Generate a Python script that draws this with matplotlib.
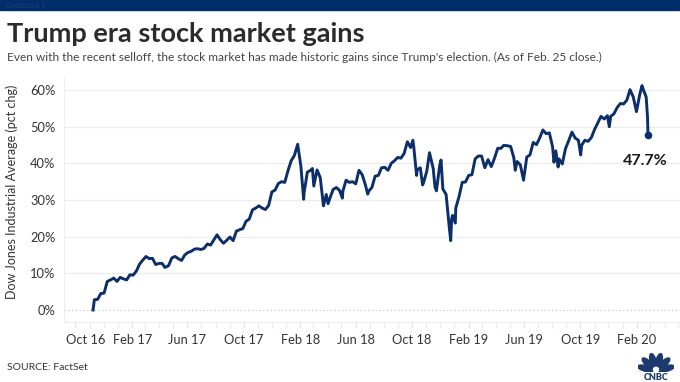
import matplotlib
matplotlib.use("Agg")
import matplotlib.pyplot as plt
import matplotlib.dates as mdates
import matplotlib.transforms as mtransforms
from matplotlib.patches import Rectangle, Ellipse
import numpy as np
import pandas as pd

dates = [
 "2016-11-08","2016-11-11","2016-11-18","2016-11-25","2016-12-02","2016-12-09","2016-12-16","2016-12-23","2016-12-30",
 "2017-01-06","2017-01-13","2017-01-20","2017-01-27","2017-02-03","2017-02-10","2017-02-17","2017-02-24","2017-03-03",
 "2017-03-10","2017-03-17","2017-03-24","2017-03-31","2017-04-07","2017-04-13","2017-04-21","2017-04-28","2017-05-05",
 "2017-05-12","2017-05-19","2017-05-26","2017-06-02","2017-06-09","2017-06-16","2017-06-23","2017-06-30","2017-07-07",
 "2017-07-14","2017-07-21","2017-07-28","2017-08-04","2017-08-11","2017-08-18","2017-08-25","2017-09-01","2017-09-08",
 "2017-09-15","2017-09-22","2017-09-29","2017-10-06","2017-10-13","2017-10-20","2017-10-27","2017-11-03","2017-11-10",
 "2017-11-17","2017-11-24","2017-12-01","2017-12-08","2017-12-15","2017-12-22","2017-12-29",
 "2018-01-05","2018-01-12","2018-01-19","2018-01-26","2018-02-02","2018-02-08","2018-02-09","2018-02-16","2018-02-23",
 "2018-02-27","2018-03-02","2018-03-09","2018-03-16","2018-03-23","2018-03-29","2018-04-02","2018-04-06","2018-04-13",
 "2018-04-20","2018-04-27","2018-05-03","2018-05-04","2018-05-11","2018-05-18","2018-05-25","2018-06-01","2018-06-08",
 "2018-06-15","2018-06-22","2018-06-27","2018-06-29","2018-07-06","2018-07-13","2018-07-20","2018-07-27","2018-08-03",
 "2018-08-10","2018-08-17","2018-08-24","2018-08-31","2018-09-07","2018-09-14","2018-09-21","2018-09-28","2018-10-03",
 "2018-10-05","2018-10-11","2018-10-12","2018-10-19","2018-10-24","2018-10-26","2018-11-02","2018-11-08","2018-11-16",
 "2018-11-20","2018-11-23","2018-11-30","2018-12-03","2018-12-07","2018-12-14","2018-12-21","2018-12-24","2018-12-26",
 "2018-12-28",
 "2019-01-03","2019-01-04","2019-01-11","2019-01-18","2019-01-25","2019-02-01","2019-02-08","2019-02-15","2019-02-22",
 "2019-03-01","2019-03-08","2019-03-15","2019-03-22","2019-03-29","2019-04-05","2019-04-12","2019-04-18","2019-04-26",
 "2019-05-03","2019-05-10","2019-05-13","2019-05-17","2019-05-24","2019-05-31","2019-06-07","2019-06-14","2019-06-21",
 "2019-06-28","2019-07-05","2019-07-12","2019-07-19","2019-07-26","2019-08-02","2019-08-05","2019-08-09","2019-08-14",
 "2019-08-16","2019-08-23","2019-08-30","2019-09-06","2019-09-13","2019-09-20","2019-09-27","2019-10-02","2019-10-04",
 "2019-10-11","2019-10-18","2019-10-25","2019-11-01","2019-11-08","2019-11-15","2019-11-22","2019-11-29","2019-12-03",
 "2019-12-06","2019-12-13","2019-12-20","2019-12-27",
 "2020-01-03","2020-01-10","2020-01-17","2020-01-24","2020-01-31","2020-02-07","2020-02-12","2020-02-14","2020-02-21",
 "2020-02-24","2020-02-25",
]
pct_change = [
 0.0,2.8,2.9,4.5,4.6,7.8,8.2,8.7,7.8,
 8.9,8.5,8.2,9.6,9.5,10.6,12.5,13.6,14.6,
 14.0,14.1,12.4,12.7,12.7,11.6,12.1,14.2,14.6,
 14.0,13.5,15.0,15.7,16.0,16.6,16.7,16.5,16.8,
 18.0,17.7,19.1,20.5,19.2,18.2,19.0,19.9,18.9,
 21.5,21.9,22.2,24.2,24.8,27.3,27.8,28.4,27.8,
 27.4,28.5,32.2,32.7,34.5,35.0,34.8,
 38.0,40.7,42.2,45.2,39.2,30.2,32.0,37.6,38.1,
 38.6,33.8,38.2,36.1,28.4,31.5,29.0,30.5,32.9,
 33.4,32.6,30.5,32.4,35.4,34.8,35.0,34.4,38.1,
 36.9,34.1,31.6,32.4,33.4,36.5,36.7,38.8,38.9,
 38.1,40.0,40.7,41.6,41.4,42.7,45.9,44.3,46.3,
 44.3,36.7,38.2,38.8,34.1,34.7,37.8,42.9,38.6,
 33.5,32.5,39.3,40.9,33.0,31.5,22.4,18.9,24.8,
 25.8,
 23.7,27.8,30.9,34.8,34.9,36.7,36.9,41.2,42.0,
 42.0,38.8,41.0,39.1,41.4,44.1,44.1,44.9,44.8,
 44.6,41.5,38.1,40.5,39.6,35.4,41.7,42.3,45.7,
 45.1,46.9,49.1,48.1,48.3,44.5,40.3,43.4,39.0,
 41.2,39.8,44.0,46.2,48.5,46.9,46.3,42.3,44.9,
 46.3,46.0,47.0,49.2,51.0,52.8,52.1,53.0,50.0,
 52.8,53.5,55.2,56.3,
 56.2,57.2,60.1,58.1,54.1,58.7,61.2,60.4,58.1,
 52.5,47.7,
]
y_ticks = [0, 10, 20, 30, 40, 50, 60]
x_tick_dates = ["2016-10-01","2017-02-01","2017-06-01","2017-10-01","2018-02-01","2018-06-01",
                "2018-10-01","2019-02-01","2019-06-01","2019-10-01","2020-02-01"]
x_tick_labels = ["Oct 16","Feb 17","Jun 17","Oct 17","Feb 18","Jun 18","Oct 18","Feb 19","Jun 19","Oct 19","Feb 20"]

W, H = 680, 382
NAVY = "#0c2e6a"
TXT = "#333333"
plt.rcParams['font.family'] = ['Lato', 'DejaVu Sans']

fig = plt.figure(figsize=(W/100, H/100), dpi=100)

def fx(x): return x / W
def fy(y): return 1 - y / H

# top banner
fig.patches.append(Rectangle((0, fy(10)), 1, 10/H, transform=fig.transFigure,
                             color="#002e6d", zorder=0))
fig.text(fx(6), fy(5), "Dashboard 1", fontsize=5, color="#1b3f7a", va="center", ha="left")

fig.text(fx(7), fy(34), "Trump era stock market gains", fontsize=19.5, fontweight="bold",
         color="#2b2b2b", va="center", ha="left")
fig.text(fx(7), fy(57), "Even with the recent selloff, the stock market has made historic gains since Trump's election. (As of Feb. 25 close.)",
         fontsize=8.6, color="#444444", va="center", ha="left")
fig.text(fx(7), fy(367), "SOURCE: FactSet", fontsize=7.5, color=TXT, va="center", ha="left")

# axes
L, R, T, B = 64, 680, 78, 322
ax = fig.add_axes([fx(L), fy(B), (R-L)/W, (B-T)/H])
d = pd.to_datetime(dates)
ax.plot(d, pct_change, color=NAVY, lw=2.1, solid_joinstyle="round", zorder=3)
ax.plot(d[-1], pct_change[-1], "o", color=NAVY, ms=4.5, zorder=4)
ax.annotate(f"{pct_change[-1]:.1f}%", (d[-1], pct_change[-1]), xytext=(-2, -19),
            textcoords="offset points", ha="center", va="center", fontsize=11.5,
            fontweight="bold", color="#1a1a1a")

# y scale: 0% at y=310, 60% at y=90
ppp = (310 - 90) / 60.0
ax.set_ylim(-(B - 310) / ppp, 60 + (90 - T) / ppp)
x0 = pd.Timestamp("2016-11-08"); x1 = pd.Timestamp("2020-02-25")
pxday = (648 - 93) / (x1 - x0).days
ax.set_xlim(x0 - pd.Timedelta(days=(93 - L) / pxday), x1 + pd.Timedelta(days=(R - 648) / pxday))

ax.set_yticks(y_ticks)
ax.set_yticklabels([f"{v}%" for v in y_ticks])
for v in y_ticks[1:]:
    ax.axhline(v, color="#ececec", lw=0.9, zorder=1)
ax.axhline(0, color="#c8c8c8", lw=0.9, ls=(0, (1, 2)), zorder=1)

xt = pd.to_datetime(x_tick_dates)
ax.set_xticks(xt)
ax.set_xticklabels(x_tick_labels)
ax.xaxis.set_minor_locator(mdates.MonthLocator())
ax.tick_params(axis="x", which="both", length=4, color="#e6e6e6", labelsize=9.3, labelcolor=TXT, pad=5)
ax.tick_params(axis="y", length=0, labelsize=9.3, labelcolor=TXT, pad=6)
first = ax.get_xticklabels()[0]
first.set_transform(first.get_transform() + mtransforms.ScaledTranslation(10/100, 0, fig.dpi_scale_trans))

for s in ["top", "right"]:
    ax.spines[s].set_visible(False)
ax.spines["left"].set_color("#eeeeee")
ax.spines["bottom"].set_color("#eeeeee")
ax.set_ylabel("Dow Jones Industrial Average (pct chg)", fontsize=9, color=TXT)
ax.yaxis.set_label_coords((18 - L) / (R - L), (B - 192) / (B - T))

# CNBC logo (simplified peacock)
lax = fig.add_axes([fx(638), fy(372), 36/W, 19/H])
lax.set_xlim(-1.8, 1.8); lax.set_ylim(-0.1, 1.9); lax.axis("off")
for ang in [15, 45, 75, 105, 135, 165]:
    r = np.deg2rad(ang)
    cx, cy = 0.95 * np.cos(r), 0.95 * np.sin(r)
    lax.add_patch(Ellipse((cx, cy), 1.9, 0.62, angle=ang, color="#1c3a6e"))
lax.add_patch(Ellipse((0, 0.15), 0.5, 0.5, color="white"))
fig.text(fx(656), fy(377.5), "CNBC", fontsize=6.5, fontweight="heavy", color="#1c3a6e",
         ha="center", va="center")

fig.savefig("out.png", dpi=100)
